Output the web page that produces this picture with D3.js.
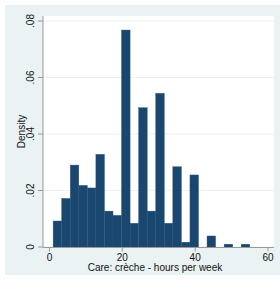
<!DOCTYPE html>
<html>
<head>
<meta charset="utf-8">
<script src="https://cdn.jsdelivr.net/npm/d3@7"></script>
<style>
  body { margin: 0; background: #fff; }
  text { font-family: "Liberation Sans", Arial, sans-serif; fill: #111; }
</style>
</head>
<body>
<div id="chart"></div>
<script>
// histogram bins: left edge of each bin (hours), all bins same width
var binStarts = [1, 3.35, 5.70, 8.04, 10.39, 12.74, 15.09, 17.43, 19.78, 22.13, 24.48, 26.83,
                 29.17, 31.52, 33.87, 36.22, 38.57, 40.91, 43.26, 45.61, 47.96, 50.30, 52.65];
var binWidth = 2.348;
var densities = [0.0092, 0.0172, 0.0290, 0.0218, 0.0209, 0.0328, 0.0127, 0.0112, 0.0768, 0.0084, 0.0493, 0.0127,
                 0.0544, 0.0084, 0.0284, 0.0017, 0.0255, 0, 0.0039, 0, 0.0010, 0, 0.0010];

var xTicks = [0, 20, 40, 60];
var yTicks = [0, 0.02, 0.04, 0.06, 0.08];
var yTickLabels = ["0", ".02", ".04", ".06", ".08"];
var xTitle = "Care: crèche - hours per week";
var yTitle = "Density";

var W = 280, H = 282;
var plot = {left: 43, right: 274, top: 16, bottom: 247.5};

var svg = d3.select("#chart").append("svg")
    .attr("width", W)
    .attr("height", H);

// outer graph region
svg.append("rect")
    .attr("x", 5).attr("y", 5)
    .attr("width", 275).attr("height", 270)
    .attr("fill", "#eaf2f3");

// plot region
svg.append("rect")
    .attr("x", plot.left).attr("y", plot.top)
    .attr("width", plot.right - plot.left).attr("height", plot.bottom - plot.top)
    .attr("fill", "#fff");

var x = d3.scaleLinear().domain([0, 60]).range([49.5, 268]);
var y = d3.scaleLinear().domain([0, 0.08]).range([247, 21]);

// gridlines
svg.selectAll(".grid")
    .data(yTicks)
    .enter().append("line")
    .attr("class", "grid")
    .attr("x1", plot.left).attr("x2", plot.right)
    .attr("y1", function(d) { return y(d); })
    .attr("y2", function(d) { return y(d); })
    .attr("stroke", "#eaf2f3")
    .attr("stroke-width", 1);

// bars (skip empty bins)
var bins = binStarts.map(function(s, i) { return {start: s, dens: densities[i]}; })
    .filter(function(b) { return b.dens > 0; });

svg.selectAll(".bar")
    .data(bins)
    .enter().append("rect")
    .attr("class", "bar")
    .attr("x", function(d) { return x(d.start); })
    .attr("width", function(d) { return x(d.start + binWidth) - x(d.start); })
    .attr("y", function(d) { return y(d.dens); })
    .attr("height", function(d) { return y(0) - y(d.dens); })
    .attr("fill", "#1a476f")
    .attr("stroke", "#2c5479")
    .attr("stroke-width", 0.4);

// y axis
svg.append("line")
    .attr("x1", plot.left).attr("x2", plot.left)
    .attr("y1", plot.top).attr("y2", plot.bottom)
    .attr("stroke", "#999").attr("stroke-width", 1);

svg.selectAll(".ytick")
    .data(yTicks)
    .enter().append("line")
    .attr("x1", plot.left - 5).attr("x2", plot.left)
    .attr("y1", function(d) { return y(d); })
    .attr("y2", function(d) { return y(d); })
    .attr("stroke", "#999");

svg.selectAll(".ylab")
    .data(yTicks)
    .enter().append("text")
    .attr("transform", function(d) { return "translate(33.5," + y(d) + ") rotate(-90)"; })
    .attr("text-anchor", "middle")
    .style("font-size", "10px")
    .text(function(d, i) { return yTickLabels[i]; });

svg.append("text")
    .attr("transform", "translate(25,131.5) rotate(-90)")
    .attr("text-anchor", "middle")
    .style("font-size", "10px")
    .text(yTitle);

// x axis
svg.append("line")
    .attr("x1", plot.left).attr("x2", plot.right)
    .attr("y1", plot.bottom).attr("y2", plot.bottom)
    .attr("stroke", "#999").attr("stroke-width", 1);

svg.selectAll(".xtick")
    .data(xTicks)
    .enter().append("line")
    .attr("x1", function(d) { return x(d); })
    .attr("x2", function(d) { return x(d); })
    .attr("y1", plot.bottom).attr("y2", plot.bottom + 4)
    .attr("stroke", "#999");

svg.selectAll(".xlab")
    .data(xTicks)
    .enter().append("text")
    .attr("x", function(d) { return x(d); })
    .attr("y", 261)
    .attr("text-anchor", "middle")
    .style("font-size", "10px")
    .text(function(d) { return d; });

svg.append("text")
    .attr("x", 155)
    .attr("y", 270.5)
    .attr("text-anchor", "middle")
    .style("font-size", "10px")
    .text(xTitle);
</script>
</body>
</html>
